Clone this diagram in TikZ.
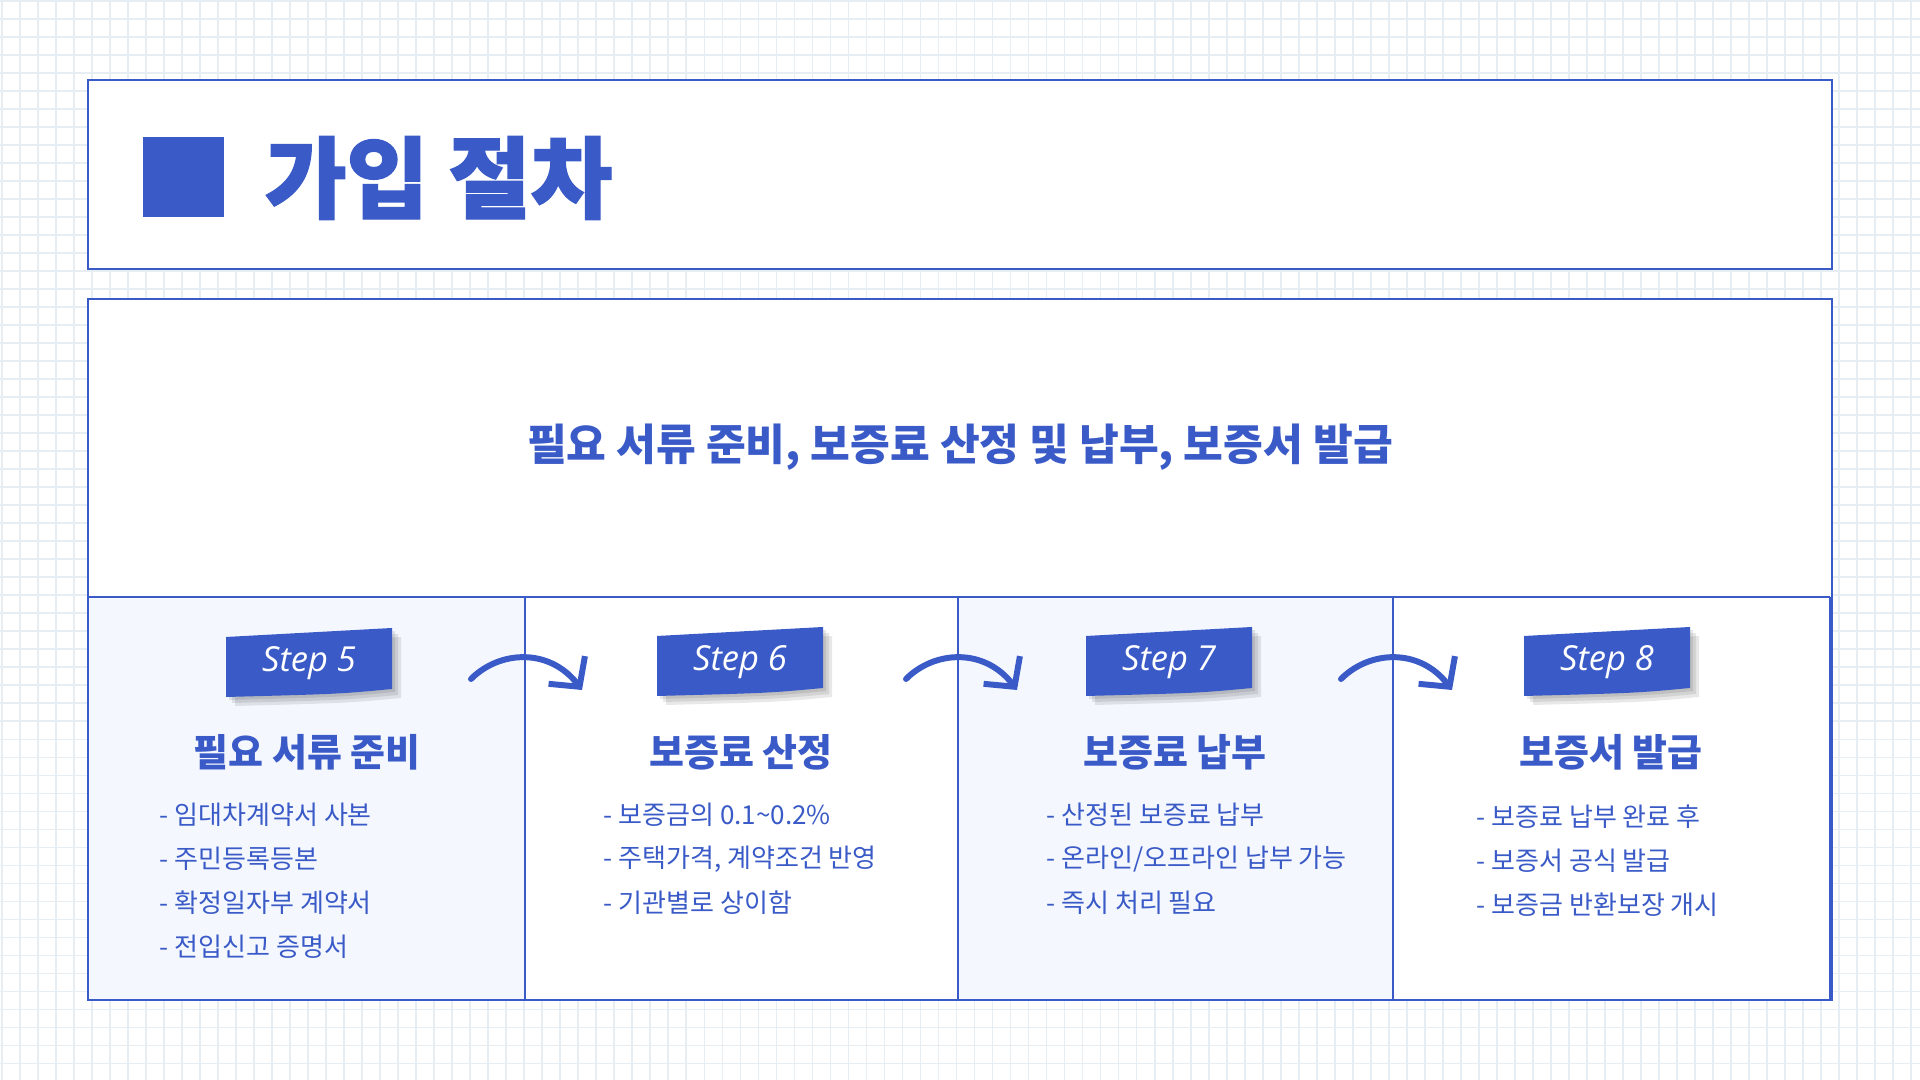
\documentclass[tikz,border=0pt]{standalone}
\usepackage{fontspec}
\setmainfont{Noto Sans CJK KR}
\newfontfamily\titlefont[FakeBold=1.5]{Noto Sans CJK KR}
\newfontfamily\tagfont{Open Sans}
\usetikzlibrary{arrows.meta}

\definecolor{mainblue}{HTML}{3A5BC7}
\definecolor{lightfill}{HTML}{F4F7FE}
\definecolor{gridblue}{HTML}{E6EEF3}

\tikzset{
  frame/.style={draw=mainblue, line width=0.6pt},
  titletext/.style={anchor=west, inner sep=0pt, text=mainblue, font=\titlefont\bfseries\fontsize{25.3}{29}\selectfont},
  subtitle/.style={text=mainblue, font=\bfseries\fontsize{12.3}{15}\selectfont},
  tagtext/.style={text=white, font=\tagfont\itshape\fontsize{9.8}{11}\selectfont},
  steptitle/.style={text=mainblue, font=\bfseries\fontsize{10.8}{13}\selectfont},
  itemline/.style={anchor=west, inner sep=0pt, text=mainblue, font=\fontsize{7.4}{9}\selectfont},
  flow/.style={draw=mainblue, line width=1.7pt, line cap=round,
    -{Straight Barb[length=6pt, width=13pt, line width=1.7pt]}}
}

% tag: name, x, y, text
\newcommand{\steptag}[4]{%
  \foreach \s in {3,6,9}
    \fill[black, opacity=0.09] (#2-83+\s,#3-26+\s) -- (#2+83+\s,#3-35+\s) -- (#2+83+\s,#3+26+\s)
      .. controls (#2+30+\s,#3+31+\s) .. (#2-83+\s,#3+34+\s) -- cycle;
  \fill[mainblue] (#2-83,#3-26) -- (#2+83,#3-35) -- (#2+83,#3+26)
      .. controls (#2+30,#3+31) .. (#2-83,#3+34) -- cycle;
  \node[tagtext] (#1) at (#2,#3) {#4};}

\begin{document}
\begin{tikzpicture}[x=0.01cm, y=-0.01cm]
    \useasboundingbox (0,0) rectangle (1920,1080);
    % Background
    \fill[white] (0,0) rectangle (1920,1080);
    \draw[gridblue, line width=0.5pt, step=0.18cm, shift={(2,1)}] (-2,-1) grid (1918,1079);
    % Title
    \draw[frame, fill=white] (88,80) rectangle (1832,269);
    \fill[mainblue] (143,137) rectangle (224,217);
    \node[titletext] (title) at (264,178) {가입 절차};
    % Main box
    \draw[frame, fill=white] (88,299) rectangle (1832,1000);
    \node[subtitle] (sub) at (960,447) {필요 서류 준비, 보증료 산정 및 납부, 보증서 발급};
    % Columns
    \fill[lightfill] (88,597) rectangle (525,1000);
    \fill[lightfill] (958,597) rectangle (1393,1000);
    \draw[frame] (88,597) -- (1830,597);
    \draw[frame] (525,597) -- (525,1000);
    \draw[frame] (958,597) -- (958,1000);
    \draw[frame] (1393,597) -- (1393,1000);
    \draw[frame] (1830,597) -- (1830,1000);
    \draw[frame] (88,299) rectangle (1832,1000);
    % Step 5
    \steptag{tag5}{309}{663}{Step 5}
    \node[steptitle] (t5) at (307,752) {필요 서류 준비};
    \node[itemline] (i51) at (159,815) {- 임대차계약서 사본};
    \node[itemline] (i52) at (159,859) {- 주민등록등본};
    \node[itemline] (i53) at (159,903) {- 확정일자부 계약서};
    \node[itemline] (i54) at (159,947) {- 전입신고 증명서};
    % Step 6
    \steptag{tag6}{740}{662}{Step 6}
    \node[steptitle] (t6) at (741,752) {보증료 산정};
    \node[itemline] (i61) at (603,815) {- 보증금의 0.1\textasciitilde0.2\%};
    \node[itemline] (i62) at (603,859) {- 주택가격, 계약조건 반영};
    \node[itemline] (i63) at (603,903) {- 기관별로 상이함};
    % Step 7
    \steptag{tag7}{1169}{662}{Step 7}
    \node[steptitle] (t7) at (1175,752) {보증료 납부};
    \node[itemline] (i71) at (1046,815) {- 산정된 보증료 납부};
    \node[itemline] (i72) at (1046,859) {- 온라인/오프라인 납부 가능};
    \node[itemline] (i73) at (1046,903) {- 즉시 처리 필요};
    % Step 8
    \steptag{tag8}{1607}{662}{Step 8}
    \node[steptitle] (t8) at (1611,752) {보증서 발급};
    \node[itemline] (i81) at (1476,817) {- 보증료 납부 완료 후};
    \node[itemline] (i82) at (1476,861) {- 보증서 공식 발급};
    \node[itemline] (i83) at (1476,905) {- 보증금 반환보장 개시};
    % Arrows
    \coordinate (a5s) at (471,679);  \coordinate (a5e) at (582,690);
    \coordinate (a6s) at (906,679);  \coordinate (a6e) at (1017,690);
    \coordinate (a7s) at (1341,679); \coordinate (a7e) at (1452,690);
    \draw[flow] (a5s) .. controls +(29,-29) and +(-32,-42) .. (a5e);
    \draw[flow] (a6s) .. controls +(29,-29) and +(-32,-42) .. (a6e);
    \draw[flow] (a7s) .. controls +(29,-29) and +(-32,-42) .. (a7e);
\end{tikzpicture}
\end{document}
